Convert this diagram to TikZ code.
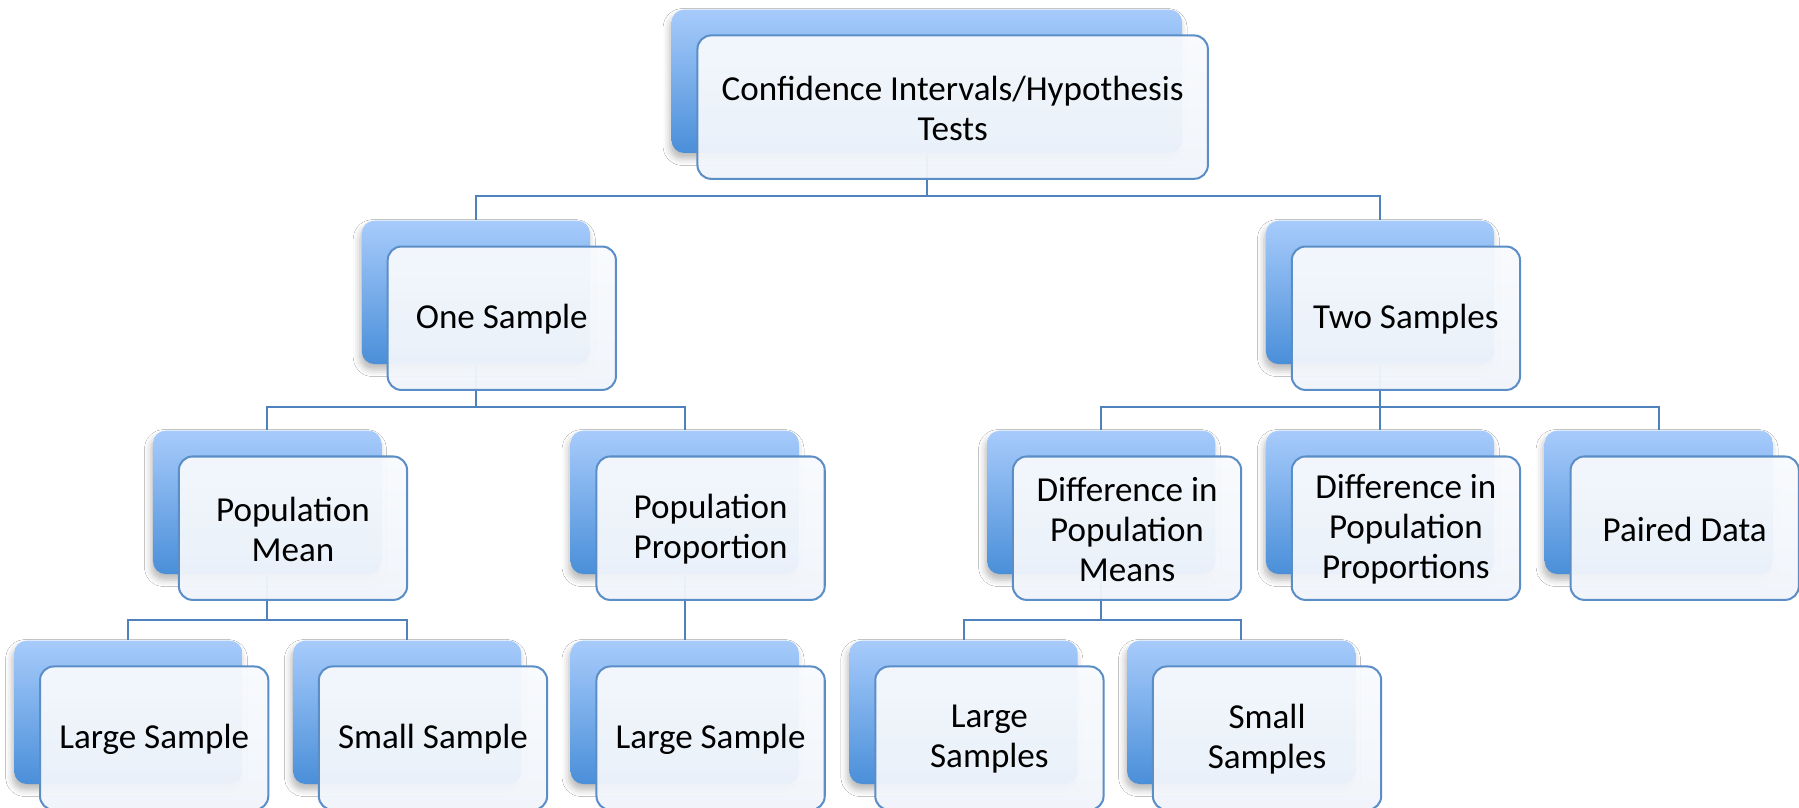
\documentclass[tikz,border=0pt]{standalone}
\usepackage{fontspec}
\setmainfont{Carlito}
\usetikzlibrary{calc,shadows.blur}
\definecolor{backtop}{HTML}{A7CBFB}
\definecolor{backbot}{HTML}{4A8FD9}
\definecolor{lineblue}{HTML}{4F81BD}
\definecolor{frontline}{HTML}{5B8EC7}
\definecolor{fronttop}{HTML}{F8FAFD}
\definecolor{frontbot}{HTML}{F1F5FB}
\pgfdeclarelayer{backl}\pgfdeclarelayer{midl}
\pgfsetlayers{backl,midl,main}
\tikzset{
  backbox/.style={anchor=north west, rounded corners=0.22cm, top color=backtop, bottom color=backbot,
    minimum height=2.5cm, inner sep=0pt, draw=none,
    blur shadow={shadow xshift=-0.3mm, shadow yshift=-1.0mm, shadow blur radius=1.2mm, shadow opacity=28}},
  frontbox/.style={anchor=north west, rounded corners=0.24cm, top color=fronttop, bottom color=frontbot,
    fill opacity=0.95, draw=frontline, draw opacity=1, line width=1pt, minimum height=2.5cm, inner sep=0pt},
  txtnode/.style={align=center, inner sep=0pt, font=\fontsize{17.4}{19.8}\selectfont, text=black},
  conn/.style={draw=lineblue, line width=1pt},
}
\newcommand{\dbox}[5]{%
  \begin{pgfonlayer}{backl}
    \node[backbox, minimum width=#4] (#1) at (#2,#3) {};
  \end{pgfonlayer}
  \node[frontbox, minimum width=#4] (#1f) at ($(#1.north west)+(22,22)$) {};
  \node[txtnode] (#1t) at ($(#1f.center)+(0,1)$) {#5};
}
\begin{document}
\begin{tikzpicture}[x=0.02cm, y=-0.02cm]
\useasboundingbox (0,0) rectangle (1568,703.4);
\begin{pgfonlayer}{backl}
  \fill[white] (0,0) rectangle (1568,703.4);
\end{pgfonlayer}
% level 0
\dbox{top}{585}{8}{8.9cm}{Confidence Intervals/Hypothesis\\Tests}
% level 1
\dbox{one}{315}{192}{3.98cm}{One Sample}
\dbox{two}{1103}{192}{3.98cm}{Two Samples}
% level 2
\dbox{pmean}{133}{375}{3.98cm}{Population\\Mean}
\dbox{pprop}{497}{375}{3.98cm}{Population\\Proportion}
\dbox{dmeans}{860}{375}{3.98cm}{Difference in\\Population\\Means}
\dbox{dprops}{1103}{375}{3.98cm}{Difference in\\Population\\Proportions}
\dbox{paired}{1346}{375}{3.98cm}{Paired Data}
% level 3
\dbox{lone}{12}{558}{3.98cm}{Large Sample}
\dbox{sone}{255}{558}{3.98cm}{Small Sample}
\dbox{ltwo}{497}{558}{3.98cm}{Large Sample}
\dbox{lmany}{740}{558}{3.98cm}{Large\\Samples}
\dbox{smany}{982}{558}{3.98cm}{Small\\Samples}
% connectors
\coordinate (b1) at (0,171);
\coordinate (b2) at (0,355);
\coordinate (b3) at (0,540);
\begin{pgfonlayer}{midl}
  \draw[conn] (top.south) -- (top.south |- b1) -| (one.north);
  \draw[conn] (top.south |- b1) -| (two.north);
  \draw[conn] (one.south) -- (one.south |- b2) -| (pmean.north);
  \draw[conn] (one.south |- b2) -| (pprop.north);
  \draw[conn] (two.south) -- (two.south |- b2) -| (dmeans.north);
  \draw[conn] (two.south |- b2) -| (dprops.north);
  \draw[conn] (two.south |- b2) -| (paired.north);
  \draw[conn] (pmean.south) -- (pmean.south |- b3) -| (lone.north);
  \draw[conn] (pmean.south |- b3) -| (sone.north);
  \draw[conn] (pprop.south) -- (ltwo.north);
  \draw[conn] (dmeans.south) -- (dmeans.south |- b3) -| (lmany.north);
  \draw[conn] (dmeans.south |- b3) -| (smany.north);
\end{pgfonlayer}
\end{tikzpicture}
\end{document}
